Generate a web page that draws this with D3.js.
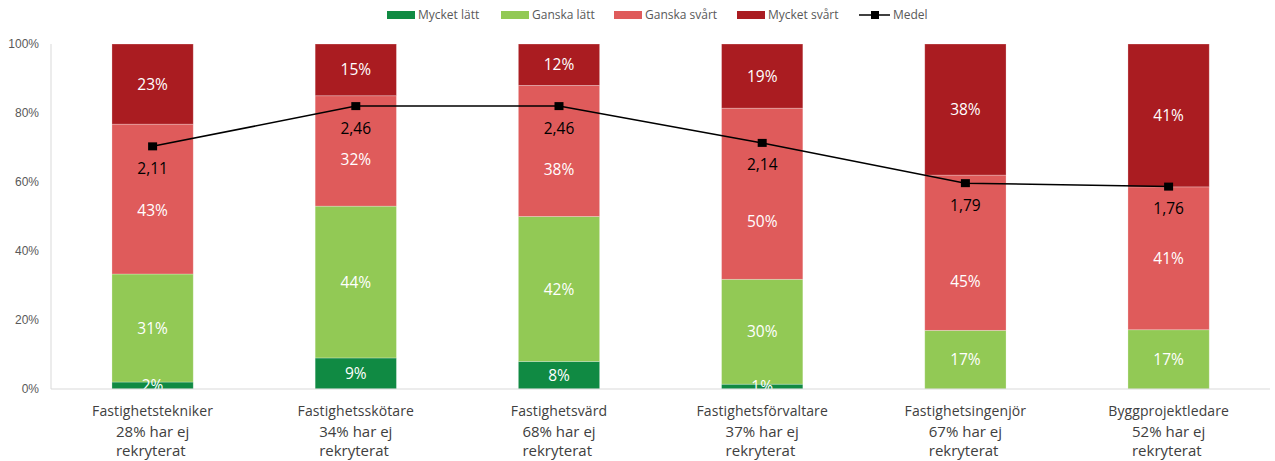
<!DOCTYPE html>
<html>
<head>
<meta charset="utf-8">
<script src="https://cdnjs.cloudflare.com/ajax/libs/d3/7.8.5/d3.min.js"></script>
<style>
  body { margin: 0; background: #fff; }
  svg { font-family: "Open Sans", "Segoe UI", sans-serif; }
</style>
</head>
<body>
<div id="chart"></div>
<script>
// data
var categories = ["Fastighetstekniker", "Fastighetsskötare", "Fastighetsvärd",
                  "Fastighetsförvaltare", "Fastighetsingenjör", "Byggprojektledare"];
var subLabels = ["28% har ej", "34% har ej", "68% har ej", "37% har ej", "67% har ej", "52% har ej"];
var seriesNames = ["Mycket lätt", "Ganska lätt", "Ganska svårt", "Mycket svårt"];
var mycketLatt  = [2, 9, 8, 1.4, 0, 0];
var ganskaLatt  = [31, 44, 42, 30.4, 17, 17];
var ganskaSvart = [43, 32, 38, 49.6, 45, 41];
var mycketSvart = [23, 15, 12, 18.6, 38, 41];
var medel = [2.11, 2.46, 2.46, 2.14, 1.79, 1.76];
var yTicks = [0, 0.2, 0.4, 0.6, 0.8, 1.0];
var colors = ["#108a43", "#92c955", "#df5b5b", "#aa1c21"];

// "Ganska svårt" labels were dragged down in the original to clear the medel labels (px)
var svartLabelNudge = [11, 8, 18, 28, 29, 0];

var W = 1275, H = 461;
var margin = {top: 44, right: 5, bottom: 72, left: 51};
var width = W - margin.left - margin.right;
var height = H - margin.top - margin.bottom;

var svg = d3.select("#chart").append("svg")
    .attr("width", W)
    .attr("height", H);

var g = svg.append("g")
    .attr("transform", "translate(" + margin.left + "," + margin.top + ")");

var x = d3.scaleBand().domain(categories).range([0, 6 * 203.2]).paddingInner(0.6).paddingOuter(0.3);
var y = d3.scaleLinear().domain([0, 1]).range([height, 0]);
var y2 = d3.scaleLinear().domain([0, 3]).range([height, 0]);

// build rows, normalised to 100% like the original
var rows = categories.map(function(c, i) {
    var vals = [mycketLatt[i], ganskaLatt[i], ganskaSvart[i], mycketSvart[i]];
    var tot = d3.sum(vals);
    var r = {cat: c, idx: i, raw: vals};
    seriesNames.forEach(function(s, k) { r[s] = vals[k] / tot; });
    return r;
});
var stacked = d3.stack().keys(seriesNames)(rows);

// axes lines
g.append("line").attr("x1", 0).attr("x2", 0).attr("y1", 0).attr("y2", height)
    .attr("stroke", "#d9d9d9");

var yAxis = g.append("g").call(d3.axisLeft(y).tickValues(yTicks)
    .tickFormat(d3.format(".0%")).tickSize(0).tickPadding(12));
yAxis.select(".domain").remove();
yAxis.selectAll("text").attr("fill", "#595959").style("font-size", "12px");

// bars
var layer = g.selectAll(".layer").data(stacked).enter().append("g")
    .attr("class", "layer")
    .attr("fill", function(d, i) { return colors[i]; });

layer.selectAll("rect").data(function(d) { return d; }).enter().append("rect")
    .attr("x", function(d) { return x(d.data.cat); })
    .attr("width", x.bandwidth())
    .attr("y", function(d) { return y(d[1]); })
    .attr("height", function(d) { return y(d[0]) - y(d[1]); })
    .attr("stroke", "#fff").attr("stroke-opacity", 0.35).attr("stroke-width", 0.75);

// segment labels
stacked.forEach(function(s, k) {
    g.selectAll(".lbl" + k).data(s.filter(function(d) { return d.data.raw[k] > 0; }))
        .enter().append("text")
        .attr("x", function(d) { return x(d.data.cat) + x.bandwidth() / 2; })
        .attr("y", function(d) {
            var off = k === 2 ? svartLabelNudge[d.data.idx] : 0;
            return (y(d[0]) + y(d[1])) / 2 + off;
        })
        .attr("dy", "0.36em")
        .attr("text-anchor", "middle")
        .attr("fill", "#fff")
        .style("font-size", "15.5px")
        .text(function(d) { return Math.round(d.data.raw[k]) + "%"; });
});

// x axis line
g.append("line").attr("x1", 0).attr("x2", width).attr("y1", height).attr("y2", height)
    .attr("stroke", "#d9d9d9");

// medel line
var line = d3.line()
    .x(function(d, i) { return x(categories[i]) + x.bandwidth() / 2; })
    .y(function(d) { return y2(d); });

g.append("path").datum(medel)
    .attr("d", line)
    .attr("fill", "none")
    .attr("stroke", "#000")
    .attr("stroke-width", 1.5);

g.selectAll(".marker").data(medel).enter().append("rect")
    .attr("x", function(d, i) { return x(categories[i]) + x.bandwidth() / 2 - 4.5; })
    .attr("y", function(d) { return y2(d) - 4; })
    .attr("width", 9).attr("height", 8)
    .attr("fill", "#000");

g.selectAll(".medlbl").data(medel).enter().append("text")
    .attr("x", function(d, i) { return x(categories[i]) + x.bandwidth() / 2; })
    .attr("y", function(d) { return y2(d) + 22; })
    .attr("dy", "0.36em")
    .attr("text-anchor", "middle")
    .attr("fill", "#000")
    .style("font-size", "15.5px")
    .text(function(d) { return d3.format(".2f")(d).replace(".", ","); });

// category labels
var cl = g.selectAll(".cat").data(categories).enter().append("g")
    .attr("transform", function(d) { return "translate(" + (x(d) + x.bandwidth() / 2) + "," + height + ")"; });
cl.append("text").attr("y", 22).attr("dy", "0.36em").attr("text-anchor", "middle")
    .attr("fill", "#404040").style("font-size", "14px").style("letter-spacing", "0.1px")
    .text(function(d) { return d; });

// the two-line sub label is a left-aligned block, centred under the bar
cl.each(function(d, i) {
    var grp = d3.select(this);
    var t1 = grp.append("text").attr("y", 43).attr("dy", "0.36em")
        .attr("fill", "#404040").style("font-size", "15px").text(subLabels[i]);
    var t2 = grp.append("text").attr("y", 62).attr("dy", "0.36em")
        .attr("fill", "#404040").style("font-size", "15px").text("rekryterat");
    var w = Math.max(t1.node().getComputedTextLength(), t2.node().getComputedTextLength());
    t1.attr("x", -w / 2);
    t2.attr("x", -w / 2);
});

// legend
var legendX = [387, 501, 614, 737];
seriesNames.forEach(function(s, k) {
    svg.append("rect").attr("x", legendX[k]).attr("y", 11).attr("width", 28).attr("height", 8)
        .attr("fill", colors[k]);
    svg.append("text").attr("x", legendX[k] + 31).attr("y", 15).attr("dy", "0.36em")
        .attr("fill", "#595959").style("font-size", "12px").text(s);
});
svg.append("line").attr("x1", 859).attr("x2", 890).attr("y1", 15).attr("y2", 15)
    .attr("stroke", "#000").attr("stroke-width", 1.5);
svg.append("rect").attr("x", 871).attr("y", 11).attr("width", 8).attr("height", 8).attr("fill", "#000");
svg.append("text").attr("x", 893).attr("y", 15).attr("dy", "0.36em")
    .attr("fill", "#595959").style("font-size", "12px").text("Medel");
</script>
</body>
</html>
